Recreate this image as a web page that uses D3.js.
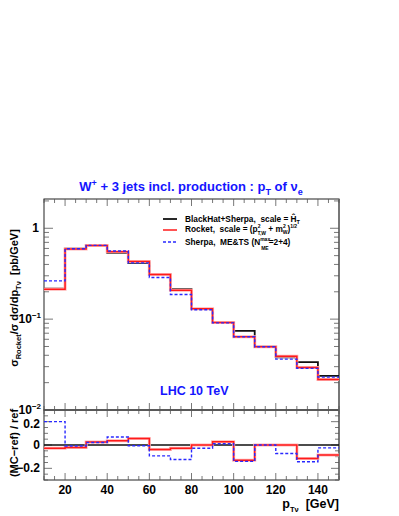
<!DOCTYPE html>
<html>
<head>
<meta charset="utf-8">
<script src="https://d3js.org/d3.v7.min.js"></script>
<style>
  body { margin: 0; background: #fff; }
  text { font-family: "Liberation Sans", Arial, sans-serif; font-weight: bold; white-space: pre; }
</style>
</head>
<body>
<div id="chart"></div>
<script>
// bin edges (GeV) and histogram contents
const edges = [10, 20, 30, 40, 50, 60, 70, 80, 90, 100, 110, 120, 130, 140, 150];
const blackhat = [0.217, 0.598, 0.640, 0.535, 0.416, 0.310, 0.214, 0.130, 0.091, 0.0744, 0.0497, 0.0380, 0.0337, 0.0238];
const rocket   = [0.213, 0.590, 0.645, 0.550, 0.430, 0.310, 0.208, 0.130, 0.092, 0.0640, 0.0497, 0.0390, 0.0294, 0.0217];
const sherpa   = [0.264, 0.595, 0.648, 0.563, 0.416, 0.287, 0.187, 0.127, 0.091, 0.0640, 0.0497, 0.0363, 0.0287, 0.0230];

// (MC-ref)/ref, ref = BlackHat+Sherpa
const rocketRatio = [-0.028, -0.022, 0.025, 0.037, 0.056, -0.039, -0.028, 0.0, 0.028, -0.130, 0.0, 0.0, -0.115, -0.085];
const sherpaRatio = [0.200, -0.008, 0.022, 0.068, -0.006, -0.093, -0.124, -0.028, 0.011, -0.140, 0.0, -0.073, -0.144, -0.025];
const refRatio    = [0, 0, 0, 0, 0, 0, 0, 0, 0, 0, 0, 0, 0, 0];

const xTicks = [20, 40, 60, 80, 100, 120, 140];
const mainTicks = [1, 0.1, 0.01];
const ratioTicks = [0.2, 0, -0.2];

const width = 399, height = 516;
const left = 44, right = 339;
const mainTop = 199, mainBottom = 410, ratioBottom = 480;

const svg = d3.select("#chart").append("svg")
    .attr("width", width)
    .attr("height", height);

const x = d3.scaleLinear().domain([10, 150]).range([left, right]);
const yMain = d3.scaleLog().domain([0.01, 2.1]).range([mainBottom, mainTop]);
const yRatio = d3.scaleLinear().domain([-0.3, 0.3]).range([ratioBottom, mainBottom]);

// step path from bin contents
function histo(vals, y) {
    const pts = edges.map((e, i) => [e, vals[Math.min(i, vals.length - 1)]]);
    return d3.line().x(d => x(d[0])).y(d => y(d[1])).curve(d3.curveStepAfter)(pts);
}

// frames
svg.append("rect").attr("x", left).attr("y", mainTop)
    .attr("width", right - left).attr("height", mainBottom - mainTop)
    .attr("fill", "none").attr("stroke", "#222").attr("stroke-width", 1);
svg.append("rect").attr("x", left).attr("y", mainBottom)
    .attr("width", right - left).attr("height", ratioBottom - mainBottom)
    .attr("fill", "none").attr("stroke", "#222").attr("stroke-width", 1);
svg.append("line").attr("x1", right).attr("x2", right).attr("y1", mainTop).attr("y2", ratioBottom)
    .attr("stroke", "#777").attr("stroke-width", 2);

// x ticks (inside, all four horizontal frame lines)
const xMinor = d3.range(10, 151, 5);
const tickG = svg.append("g").attr("stroke", "#555").attr("stroke-width", 0.8);
[[mainTop, 1], [mainBottom, -1], [mainBottom, 1], [ratioBottom, -1]].forEach(([yy, dir]) => {
    tickG.selectAll(null).data(xMinor).enter().append("line")
        .attr("x1", d => x(d)).attr("x2", d => x(d))
        .attr("y1", yy).attr("y2", d => yy + dir * (d % 20 === 0 ? 7 : 4));
});

// main y ticks (log)
const logMinor = [];
[0.01, 0.1, 1].forEach(dec => d3.range(1, 10).forEach(k => { if (dec * k <= 2.1) logMinor.push(dec * k); }));
[[left, 1], [right, -1]].forEach(([xx, dir]) => {
    tickG.selectAll(null).data(logMinor).enter().append("line")
        .attr("y1", d => yMain(d)).attr("y2", d => yMain(d))
        .attr("x1", xx).attr("x2", d => xx + dir * (mainTicks.includes(d) ? 9 : 5));
});

// ratio y ticks
const ratioMinor = d3.range(-0.3, 0.31, 0.05).map(d => +d.toFixed(2));
[[left, 1], [right, -1]].forEach(([xx, dir]) => {
    tickG.selectAll(null).data(ratioMinor).enter().append("line")
        .attr("y1", d => yRatio(d)).attr("y2", d => yRatio(d))
        .attr("x1", xx).attr("x2", d => xx + dir * (Math.abs(d * 10 % 2) < 0.01 ? 8 : 4));
});

// main y labels
const mainLab = svg.append("g").attr("font-size", 12).attr("text-anchor", "end");
mainTicks.forEach(v => {
    const t = mainLab.append("text").attr("x", v === 1 ? 39 : 41).attr("y", yMain(v) + 4);
    if (v === 1) t.text("1");
    else {
        t.append("tspan").text("10");
        t.append("tspan").attr("font-size", 8).attr("dy", -5).text(v === 0.1 ? "\u22121" : "\u22122");
    }
});

// ratio y labels
svg.append("g").attr("font-size", 12).attr("text-anchor", "end")
    .selectAll("text").data(ratioTicks).enter().append("text")
    .attr("x", 40).attr("y", d => yRatio(d) + (d === 0.2 ? 6 : 4))
    .text(d => d === 0 ? "0" : d3.format(".1f")(d).replace("-", "\u2212"));

// x labels
svg.append("g").attr("font-size", 12).attr("text-anchor", "middle")
    .selectAll("text").data(xTicks).enter().append("text")
    .attr("x", d => x(d)).attr("y", 494).text(d => d);

// reference line in ratio panel
svg.append("line").attr("x1", left).attr("x2", right)
    .attr("y1", yRatio(0)).attr("y2", yRatio(0))
    .attr("stroke", "#111").attr("stroke-width", 1.3);

// histograms
const styles = [
    { data: blackhat, ratio: refRatio, color: "#111", w: 1.8, dash: null },
    { data: rocket, ratio: rocketRatio, color: "#ff1a1a", w: 1.5, dash: null },
    { data: sherpa, ratio: sherpaRatio, color: "#2929ff", w: 1.4, dash: "3,2" }
];
styles.forEach(s => {
    if (s.color === "#ff1a1a") {
        [[s.data, yMain], [s.ratio, yRatio]].forEach(([d, y]) =>
            svg.append("path").attr("d", histo(d, y)).attr("fill", "none")
                .attr("stroke", "#ffb4b4").attr("stroke-width", 3));
    }
    svg.append("path").attr("d", histo(s.data, yMain)).attr("fill", "none")
        .attr("stroke", s.color).attr("stroke-width", s.w).attr("stroke-dasharray", s.dash);
    if (s.color !== "#111")
        svg.append("path").attr("d", histo(s.ratio, yRatio)).attr("fill", "none")
            .attr("stroke", s.color).attr("stroke-width", s.w).attr("stroke-dasharray", s.dash);
});

// title
const title = svg.append("text").attr("x", 191).attr("y", 191)
    .attr("text-anchor", "middle").attr("font-size", 13).attr("fill", "#1414ff");
title.append("tspan").text("W");
title.append("tspan").attr("font-size", 9).attr("dy", -5).text("+");
title.append("tspan").attr("dy", 5).text(" + 3 jets incl. production : p");
title.append("tspan").attr("font-size", 9).attr("dy", 4).text("T");
title.append("tspan").attr("dy", -4).text(" of \u03bd");
title.append("tspan").attr("font-size", 9).attr("dy", 4).text("e");

// LHC label
svg.append("text").attr("x", 160).attr("y", 395).attr("font-size", 12.5)
    .attr("fill", "#1414ff").text("LHC 10 TeV");

// legend
const lg = svg.append("g").attr("font-size", 8.3);
const legY = [219, 230, 242];
styles.forEach((s, i) => {
    lg.append("line").attr("x1", 163).attr("x2", 177).attr("y1", legY[i]).attr("y2", legY[i])
        .attr("stroke", s.color).attr("stroke-width", s.w).attr("stroke-dasharray", s.dash);
});
const l1 = lg.append("text").attr("x", 185).attr("y", legY[0] + 3);
l1.append("tspan").text("BlackHat+Sherpa,  scale = \u0124");
l1.append("tspan").attr("font-size", 5.5).attr("dy", 2).text("T");
const l2 = lg.append("text").attr("x", 185).attr("y", legY[1] + 2);
l2.append("tspan").text("Rocket,  scale = (p");
l2.append("tspan").attr("font-size", 5).attr("dy", -4).text("2");
l2.append("tspan").attr("font-size", 5).attr("dx", -3).attr("dy", 7).text("T,W");
l2.append("tspan").attr("dy", -3).text(" + m");
l2.append("tspan").attr("font-size", 5).attr("dy", -4).text("2");
l2.append("tspan").attr("font-size", 5).attr("dx", -3).attr("dy", 6).text("W");
l2.append("tspan").attr("dy", -2).text(")");
l2.append("tspan").attr("font-size", 5).attr("dy", -4).text("1/2");
const l3 = lg.append("text").attr("x", 185).attr("y", legY[2] + 3);
l3.append("tspan").text("Sherpa,  ME&TS (N");
l3.append("tspan").attr("font-size", 5).attr("dy", -4).text("max");
l3.append("tspan").attr("font-size", 5).attr("dx", -9).attr("dy", 9).text("ME");
l3.append("tspan").attr("dy", -5).text("=2+4)");

// y titles
const yt = svg.append("text").attr("transform", "translate(18,298) rotate(-90)")
    .attr("text-anchor", "middle").attr("font-size", 11);
yt.append("tspan").text("\u03c3");
yt.append("tspan").attr("font-size", 7.5).attr("dy", 3).text("Rocket");
yt.append("tspan").attr("dy", -3).text("/\u03c3 d\u03c3/dp");
yt.append("tspan").attr("font-size", 7.5).attr("dy", 3).text("T\u03bd");
yt.append("tspan").attr("dy", -3).text("  [pb/GeV]");

svg.append("text").attr("transform", "translate(18,443) rotate(-90)")
    .attr("text-anchor", "middle").attr("font-size", 11).text("(MC\u2212ref) / ref");

// x title
const xt = svg.append("text").attr("x", right).attr("y", 508)
    .attr("text-anchor", "end").attr("font-size", 12.5);
xt.append("tspan").text("p");
xt.append("tspan").attr("font-size", 7.5).attr("dy", 4).text("T\u03bd");
xt.append("tspan").attr("dy", -4).text("  [GeV]");
</script>
</body>
</html>
